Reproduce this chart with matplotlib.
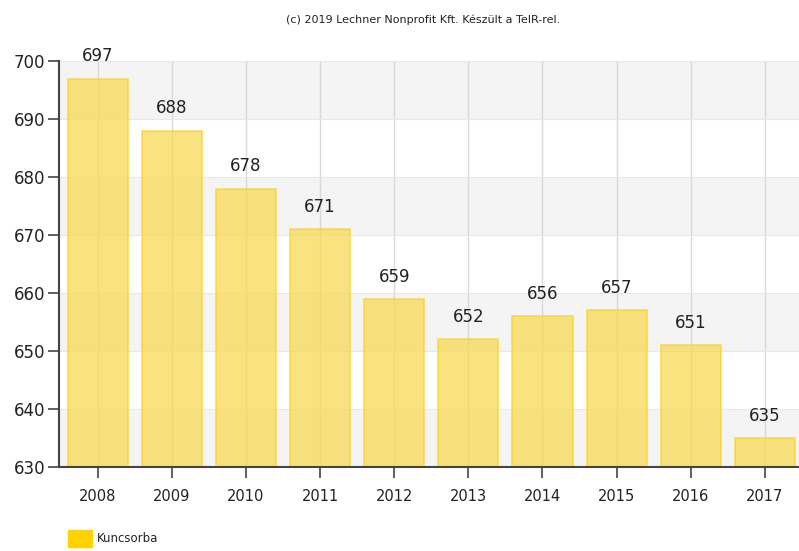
import matplotlib
matplotlib.use("Agg")
import matplotlib.pyplot as plt
from matplotlib.patches import Rectangle

years = ["2008", "2009", "2010", "2011", "2012", "2013", "2014", "2015", "2016", "2017"]
values = [697, 688, 678, 671, 659, 652, 656, 657, 651, 635]
series_name = "Kuncsorba"
credit = "(c) 2019 Lechner Nonprofit Kft. Készült a TeIR-rel."

fig = plt.figure(figsize=(7.99, 5.51), dpi=100)
ax = fig.add_axes([0.074, 0.1525, 0.926, 0.7365])

# alternating horizontal bands
for lo in range(630, 700, 20):
    ax.axhspan(lo, lo + 10, color="#f4f4f4", zorder=0, lw=0)
ax.grid(axis="x", color="#d9d9d9", lw=1, zorder=0.5)
ax.grid(axis="y", color="#e8e8e8", lw=0.8, zorder=0.5)

x = range(len(years))
ax.bar(x, [v - 630 for v in values], bottom=630, width=0.81,
       color="#f6d94f", alpha=0.72, edgecolor="#ffd21a", lw=1.2, zorder=2)
for i, v in enumerate(values):
    ax.text(i, v + 2.3, str(v), ha="center", va="bottom", fontsize=12, color="#222222")

ax.set_xlim(-0.52, 9.46)
ax.set_ylim(630, 700)
ax.set_yticks(range(630, 701, 10))
ax.set_xticks(list(x))
ax.set_xticklabels(years)
for s in ["top", "right"]:
    ax.spines[s].set_visible(False)
for s in ["left", "bottom"]:
    ax.spines[s].set_color("#444444")
    ax.spines[s].set_linewidth(1.5)
ax.tick_params(axis="y", length=8, width=1.2, color="#444444", labelsize=12, pad=2, labelcolor="#222222")
ax.tick_params(axis="x", length=8, width=1.2, color="#444444", labelsize=10.5, pad=8, labelcolor="#222222")

fig.text(0.53, 0.965, credit, ha="center", va="center", fontsize=8, color="#222222")

# legend
fig.patches.append(Rectangle((68 / 799, 4 / 551), 24 / 799, 17 / 551,
                             transform=fig.transFigure, color="#ffd200"))
fig.text(97 / 799, 12 / 551, series_name, ha="left", va="center", fontsize=8.5, color="#222222")

fig.savefig("out.png", dpi=100)
